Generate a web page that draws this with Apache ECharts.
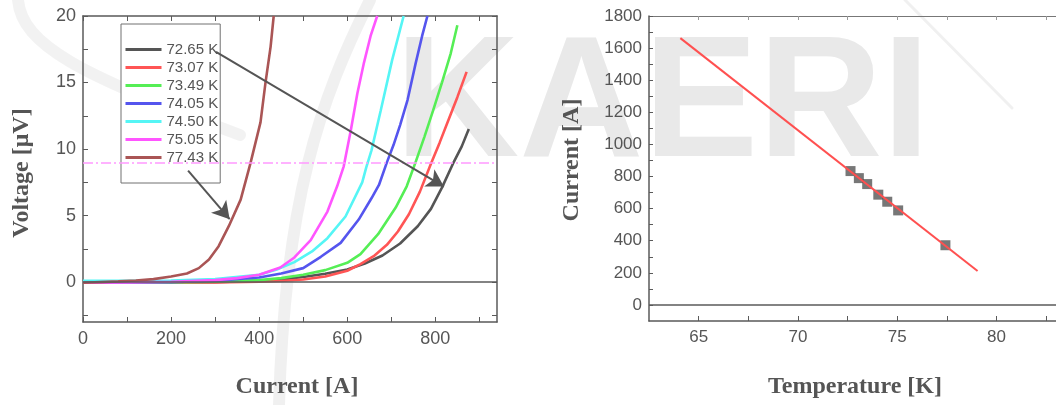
<!DOCTYPE html>
<html>
<head>
<meta charset="utf-8">
<script src="https://cdn.jsdelivr.net/npm/echarts@6/dist/echarts.min.js"></script>
<style>
  html, body { margin: 0; padding: 0; background: #fff; }
  #chart { width: 1056px; height: 405px; }
</style>
</head>
<body>
<div id="chart"></div>
<script>
// V–I curves, [current A, voltage µV], one array per temperature
const curve7265 = [[0,-0.05],[100,-0.05],[200,-0.03],[300,0],[400,0.1],[450,0.2],[500,0.38],[550,0.62],[600,0.95],[640,1.4],[680,2.0],[720,2.9],[760,4.2],[790,5.5],[815,7.1],[840,8.9],[860,10.2],[876,11.5]];
const curve7307 = [[0,-0.05],[200,-0.05],[300,-0.03],[400,0.02],[450,0.08],[500,0.2],[550,0.42],[600,0.85],[630,1.35],[660,1.95],[690,2.8],[715,3.8],[740,5.1],[765,6.8],[790,8.9],[810,10.5],[830,12.2],[850,13.9],[871,15.8]];
const curve7349 = [[0,-0.05],[200,-0.03],[300,0.02],[400,0.15],[450,0.3],[500,0.55],[550,0.9],[600,1.45],[630,2.1],[670,3.6],[710,5.6],[735,7.2],[755,9.0],[775,10.9],[795,12.9],[815,15.0],[835,17.2],[850,19.3]];
const curve7405 = [[0,-0.05],[200,0],[300,0.1],[400,0.35],[450,0.65],[500,1.05],[540,1.9],[585,2.95],[626,4.7],[655,6.3],[672,7.3],[690,9.0],[705,10.3],[720,11.8],[737,13.7],[755,16.4],[770,18.5],[782,20]];
const curve7450 = [[0,0.1],[100,0.1],[200,0.12],[300,0.22],[400,0.55],[440,0.95],[480,1.5],[520,2.3],[555,3.3],[596,4.93],[634,7.5],[643,8.6],[655,9.9],[676,12.9],[702,16.7],[728,20]];
const curve7505 = [[0,-0.05],[100,-0.02],[200,0.03],[300,0.15],[350,0.3],[400,0.55],[448,1.1],[480,1.85],[517,3.15],[555,5.3],[577,7.2],[592,8.7],[608,11.4],[623,14.2],[638,16.5],[653,18.5],[668,20]];
const curve7743 = [[0,-0.05],[40,0],[80,0.05],[120,0.12],[160,0.22],[200,0.42],[236,0.65],[263,1.05],[286,1.7],[308,2.7],[331,4.2],[358,6.2],[380,8.9],[403,12],[414,14.9],[426,17.7],[433,20]];

const curveNames = ['72.65 K','73.07 K','73.49 K','74.05 K','74.50 K','75.05 K','77.43 K'];
const curveColors = ['#555555','#ff5555','#55ee55','#5555ee','#55f5f5','#ff55ff','#aa5555'];
const curves = [curve7265, curve7307, curve7349, curve7405, curve7450, curve7505, curve7743];

// voltage criterion (µV) and arrow annotations [from, to] in data units
const criterion = 9;
const arrowHigh = [[302, 17.3], [819.5, 7.18]];
const arrowLow = [[238.6, 8.38], [333, 4.73]];

// critical current vs temperature
const tempK = [72.65, 73.07, 73.49, 74.05, 74.50, 75.05, 77.43];
const icA = [834, 790, 753, 687, 643, 589, 372];
const fitT = [64.08, 79.05];
const fitI = [1662, 211];

// tick values
const vLabels = [0, 5, 10, 15, 20];
const vTicks = [-2.5, 0, 2.5, 5, 7.5, 10, 12.5, 15, 17.5, 20];
const iLabels = [0, 200, 400, 600, 800];
const iTicks = [0, 100, 200, 300, 400, 500, 600, 700, 800, 900];
const tLabels = [65, 70, 75, 80];
const tTicks = [65, 67.5, 70, 72.5, 75, 77.5, 80, 82.5];
const cLabels = [0, 200, 400, 600, 800, 1000, 1200, 1400, 1600, 1800];
const cTicks = [0,100,200,300,400,500,600,700,800,900,1000,1100,1200,1300,1400,1500,1600,1700,1800];

const axisGray = '#5a5a5a';
const textGray = '#555';
const tickFont = 'Liberation Sans';
const plainNumber = v => String(v);

function frameAxis(base) {
  return Object.assign({
    type: 'value',
    axisLine: { show: true, onZero: false, lineStyle: { color: axisGray, width: 1.5 } },
    splitLine: { show: false },
  }, base);
}

const chart = echarts.init(document.getElementById('chart'), null, { renderer: 'canvas' });

const series = curves.map((c, k) => ({
  name: curveNames[k],
  type: 'line',
  xAxisIndex: 0, yAxisIndex: 0,
  data: c,
  symbol: 'none',
  lineStyle: { color: curveColors[k], width: 2.6 },
  itemStyle: { color: curveColors[k] },
  z: 3,
  silent: true
}));

// zero line and voltage criterion (beneath the legend box)
series.push({
  type: 'line', xAxisIndex: 0, yAxisIndex: 0, data: [], silent: true,
  markLine: {
    silent: true, animation: false, label: { show: false }, symbol: 'none',
    data: [
      { yAxis: 0, lineStyle: { color: axisGray, width: 1.5, type: 'solid' } },
      { yAxis: criterion, lineStyle: { color: '#ff99ff', width: 1.5, type: [10, 3, 2, 3] } }
    ]
  },
  z: 2
});

// arrows pointing from legend entries to their curves (above the legend box)
series.push({
  type: 'line', xAxisIndex: 0, yAxisIndex: 0, data: [], silent: true,
  markLine: {
    silent: true, animation: false, label: { show: false }, symbol: 'none',
    data: [
      [ { coord: arrowHigh[0], symbol: 'none' }, { coord: arrowHigh[1], symbol: 'arrow', symbolSize: [15, 17] } ],
      [ { coord: arrowLow[0], symbol: 'none' }, { coord: arrowLow[1], symbol: 'arrow', symbolSize: [15, 17] } ]
    ],
    lineStyle: { color: '#555', width: 2, type: 'solid' }
  },
  z: 8
});

// Ic vs T panel
series.push({
  type: 'scatter', xAxisIndex: 2, yAxisIndex: 2,
  data: tempK.map((t, k) => [t, icA[k]]),
  symbol: 'rect', symbolSize: 10,
  itemStyle: { color: '#555555' },
  z: 2, silent: true
});
series.push({
  type: 'line', xAxisIndex: 2, yAxisIndex: 2,
  data: fitT.map((t, k) => [t, fitI[k]]),
  symbol: 'none',
  lineStyle: { color: '#ff5050', width: 2 },
  z: 3, silent: true,
  markLine: {
    silent: true, animation: false, symbol: 'none', label: { show: false },
    data: [{ yAxis: 0 }],
    lineStyle: { color: axisGray, width: 1.5, type: 'solid' }
  }
});

const labelStyle = { color: textGray, fontFamily: tickFont, formatter: plainNumber };

const option = {
  animation: false,
  backgroundColor: '#ffffff',
  grid: [
    { left: 83, top: 16, width: 414, height: 306 },
    { left: 649, top: 16, width: 410, height: 305 }
  ],
  legend: {
    data: curveNames,
    orient: 'vertical',
    left: 121, top: 24,
    itemWidth: 36, itemHeight: 14, itemGap: 3,
    padding: [18, 2, 18, 3],
    backgroundColor: '#ffffff',
    borderColor: '#707070', borderWidth: 1, borderRadius: 0,
    selectedMode: false,
    lineStyle: { width: 3 },
    itemStyle: { opacity: 0 },
    textStyle: { color: textGray, fontSize: 15, fontFamily: tickFont },
    z: 5
  },
  xAxis: [
    frameAxis({ gridIndex: 0, position: 'bottom', min: 0, max: 940,
      axisTick: { show: true, inside: true, length: 5, customValues: iTicks, lineStyle: { color: axisGray } },
      axisLabel: Object.assign({ show: true, fontSize: 18, margin: 8, customValues: iLabels }, labelStyle) }),
    frameAxis({ gridIndex: 0, position: 'top', min: 0, max: 940,
      axisTick: { show: true, inside: true, length: 5, customValues: iTicks, lineStyle: { color: axisGray } },
      axisLabel: { show: false } }),
    frameAxis({ gridIndex: 1, position: 'bottom', min: 62.5, max: 83,
      axisTick: { show: true, inside: true, length: 5, customValues: tTicks, lineStyle: { color: axisGray } },
      axisLabel: Object.assign({ show: true, fontSize: 17, margin: 8, customValues: tLabels }, labelStyle) }),
    frameAxis({ gridIndex: 1, position: 'top', min: 62.5, max: 83,
      axisLine: { show: true, onZero: false, lineStyle: { color: '#777', width: 1.2 } },
      axisTick: { show: true, inside: true, length: 4, customValues: tTicks, lineStyle: { color: '#999' } },
      axisLabel: { show: false } })
  ],
  yAxis: [
    frameAxis({ gridIndex: 0, position: 'left', min: -3, max: 20,
      axisTick: { show: true, inside: true, length: 5, customValues: vTicks, lineStyle: { color: axisGray } },
      axisLabel: Object.assign({ show: true, fontSize: 18, margin: 7, customValues: vLabels }, labelStyle) }),
    frameAxis({ gridIndex: 0, position: 'right', min: -3, max: 20,
      axisTick: { show: true, inside: true, length: 5, customValues: vTicks, lineStyle: { color: axisGray } },
      axisLabel: { show: false } }),
    frameAxis({ gridIndex: 1, position: 'left', min: -100, max: 1800,
      axisTick: { show: true, inside: true, length: 4, customValues: cTicks, lineStyle: { color: axisGray } },
      axisLabel: Object.assign({ show: true, fontSize: 17, margin: 7, customValues: cLabels }, labelStyle) })
  ],
  graphic: [
    // institute watermark and logo swooshes behind both panels
    { type: 'text', z: -10, silent: true, left: 395, top: 23,
      style: { text: 'KAERI', font: 'bold 172px "Liberation Sans"', fill: '#e9e9e9' } },
    { type: 'bezierCurve', z: -10, silent: true,
      shape: { x1: 370, y1: 0, cpx1: 320, cpy1: 100, cpx2: 285, cpy2: 200, x2: 279, y2: 405 },
      style: { fill: null, stroke: 'rgba(0,0,0,0.06)', lineWidth: 12, lineCap: 'round' } },
    { type: 'bezierCurve', z: -10, silent: true,
      shape: { x1: 18, y1: 0, cpx1: 22, cpy1: 45, cpx2: 80, cpy2: 75, x2: 240, y2: 135 },
      style: { fill: null, stroke: 'rgba(0,0,0,0.05)', lineWidth: 12, lineCap: 'round' } },
    { type: 'line', z: -10, silent: true,
      shape: { x1: 905, y1: 0, x2: 1012, y2: 108 },
      style: { stroke: 'rgba(0,0,0,0.06)', lineWidth: 3, lineCap: 'round' } },
    // axis titles
    { type: 'text', silent: true, x: 22, y: 173, rotation: Math.PI / 2,
      style: { text: 'Voltage [\u03bcV]', font: 'bold 24px "Liberation Serif"', fill: textGray, textAlign: 'center', textVerticalAlign: 'middle' } },
    { type: 'text', silent: true, x: 297, y: 387,
      style: { text: 'Current [A]', font: 'bold 24px "Liberation Serif"', fill: textGray, textAlign: 'center', textVerticalAlign: 'middle' } },
    { type: 'text', silent: true, x: 572, y: 160, rotation: Math.PI / 2,
      style: { text: 'Current [A]', font: 'bold 24px "Liberation Serif"', fill: textGray, textAlign: 'center', textVerticalAlign: 'middle' } },
    { type: 'text', silent: true, x: 855, y: 387,
      style: { text: 'Temperature [K]', font: 'bold 24px "Liberation Serif"', fill: textGray, textAlign: 'center', textVerticalAlign: 'middle' } }
  ],
  series: series
};

chart.setOption(option);
</script>
</body>
</html>
